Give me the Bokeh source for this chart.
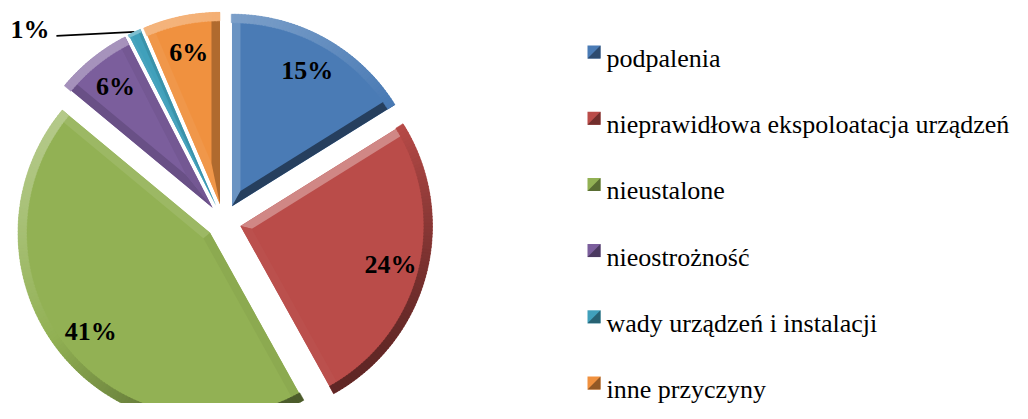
import numpy as np
from bokeh.plotting import figure
from bokeh.models import Range1d, ColumnDataSource
from bokeh.core.properties import value
from bokeh.embed import file_html
from bokeh.resources import INLINE

# ---------------- data ----------------
categories = ["podpalenia", "nieprawidłowa ekspoloatacja urządzeń", "nieustalone",
              "nieostrożność", "wady urządzeń i instalacji", "inne przyczyny"]
percent = [15, 24, 41, 6, 1, 6]
labels = ["15%", "24%", "41%", "6%", "1%", "6%"]
colors = ["#4a7bb5", "#ba4c49", "#92b154", "#7b5e9c", "#40a0bb", "#f0913f"]

# ---------------- layout / style ----------------
W, H = 1012, 403
CX, CY = 223, H - 221      # pie centre (data units == screen px)
R = 192                    # radius
EXPLODE = 17.5
BEVEL = 8.5
LABEL_R = 155
FONT = "Liberation Serif"
FS = "26px"

p = figure(width=W, height=H, output_backend="svg", toolbar_location=None,
           x_range=Range1d(0, W), y_range=Range1d(0, H), min_border=0,
           background_fill_color="white", border_fill_color="white")
p.axis.visible = False
p.grid.visible = False
p.outline_line_color = None


def mix(hexc, f):
    c = np.array([int(hexc[i:i + 2], 16) for i in (1, 3, 5)], dtype=float)
    if f >= 0:
        c = c + (255 - c) * min(f, 1) * 0.33
    else:
        c = c * (1 - min(-f, 1) * 0.48)
    c = np.clip(c, 0, 255).astype(int)
    return "#%02x%02x%02x" % tuple(c)


L = np.array([-0.55, 0.83])
L = L / np.linalg.norm(L)


def u(a):
    return np.array([np.cos(a), np.sin(a)])


vals = np.array(percent, dtype=float)
frac = vals / vals.sum()
cum = np.concatenate([[0], np.cumsum(frac)])
starts = np.pi / 2 - 2 * np.pi * cum[:-1]
ends = np.pi / 2 - 2 * np.pi * cum[1:]
mids = (starts + ends) / 2

face = dict(x=[], y=[], s=[], e=[], c=[])
bands_x, bands_y, bands_c = [], [], []
arc = dict(x=[], y=[], s=[], e=[], c=[], ri=[])
lab = dict(x=[], y=[], t=[])

for i in range(len(vals)):
    a_s, a_e, m = starts[i], ends[i], mids[i]
    apex = np.array([CX, CY]) + EXPLODE * u(m)
    face["x"].append(apex[0]); face["y"].append(apex[1])
    face["s"].append(a_e); face["e"].append(a_s); face["c"].append(colors[i])
    theta = a_s - a_e
    w = min(BEVEL, R * np.sin(theta / 2) * 0.45)
    inset = apex + (w / np.sin(theta / 2)) * u(m)
    for a, nin, nout in ((a_s, a_s - np.pi / 2, a_s + np.pi / 2),
                         (a_e, a_e + np.pi / 2, a_e - np.pi / 2)):
        f = float(np.dot(u(nout), L))
        p1 = apex + R * u(a)
        p2 = apex + np.sqrt((R - w) ** 2 - w ** 2) * u(a) + w * u(nin)
        pts = [apex, p1, p2, inset]
        bands_x.append([q[0] for q in pts]); bands_y.append([q[1] for q in pts])
        bands_c.append(mix(colors[i], f))
    n = max(2, int(np.degrees(theta)))
    edges = np.linspace(a_s, a_e, n + 1)
    for k in range(n):
        am = (edges[k] + edges[k + 1]) / 2
        f = float(np.dot(u(am), L))
        arc["x"].append(apex[0]); arc["y"].append(apex[1])
        arc["s"].append(edges[k + 1]); arc["e"].append(edges[k] + 0.004)
        arc["c"].append(mix(colors[i], f)); arc["ri"].append(R - w)
    if frac[i] > 0.03:
        pos = apex + LABEL_R * u(m)
        lab["x"].append(pos[0]); lab["y"].append(pos[1]); lab["t"].append(labels[i])
    else:
        outer = apex + R * u(m)
        start = outer + np.array([-78, -4])
        p.line([outer[0], start[0]], [outer[1], start[1]], line_color="black", line_width=1.6)
        p.text([start[0] - 7], [start[1] + 6], text=[labels[i]], text_font=value(FONT),
               text_font_style="bold", text_font_size=FS, text_align="right",
               text_baseline="middle", text_color="black")

p.wedge(x="x", y="y", radius=R, radius_units="screen", start_angle="s", end_angle="e",
        direction="anticlock", fill_color="c", line_color=None,
        source=ColumnDataSource(face))
p.patches(bands_x, bands_y, fill_color=bands_c, line_color=None)
p.annular_wedge(x="x", y="y", inner_radius="ri", outer_radius=R, start_angle="s",
                end_angle="e", direction="anticlock", fill_color="c", line_color="c",
                line_width=0.5, source=ColumnDataSource(arc))
p.text(x="x", y="y", text="t", source=ColumnDataSource(lab), text_font=value(FONT),
       text_font_style="bold", text_font_size=FS, text_align="center",
       text_baseline="middle", text_color="black")

# ---------------- legend ----------------
LX, LY0, LDY, MS = 587, H - 58, 66.2, 13
for i, name in enumerate(categories):
    yb = LY0 - i * LDY
    p.patch([LX, LX + MS, LX + MS, LX], [yb, yb, yb + MS, yb + MS],
            fill_color=colors[i], line_color=None)
    p.patch([LX, LX + MS, LX + MS], [yb, yb, yb + MS],
            fill_color=mix(colors[i], -0.8), line_color=None)
    p.text([LX + 19], [yb], text=[name], text_font=value(FONT), text_font_size=FS,
           text_align="left", text_baseline="alphabetic", text_color="black")

open("out.html", "w").write(file_html(p, INLINE))
